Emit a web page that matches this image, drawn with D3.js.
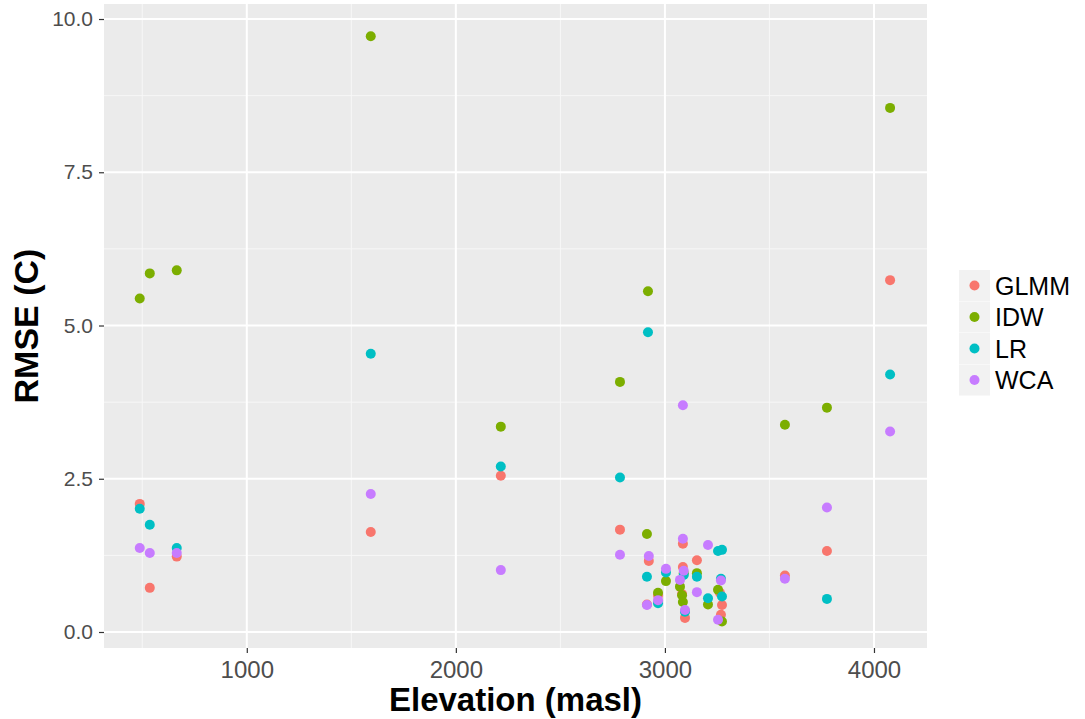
<!DOCTYPE html>
<html><head><meta charset="utf-8">
<script src="https://cdn.jsdelivr.net/npm/d3@7"></script>
<style>body{margin:0;background:#fff;} svg{display:block;font-family:"Liberation Sans",Arial,sans-serif;}</style>
</head><body><svg id="c" width="1085" height="719"></svg>
<script>
const seriesNames = ["GLMM","IDW","LR","WCA"];
const seriesColors = ["#F8766D","#7CAE00","#00BFC4","#C77CFF"];
const xTicks = [1000,2000,3000,4000];
const yTicks = [0,2.5,5,7.5,10];
const glmm = [[488,2.09],[536,0.72],[665,1.23],[1593,1.63],[2215,2.55],[2785,1.67],[2923,1.16],[2914,0.45],[2967,0.60],[3086,1.44],[3086,1.06],[3082,0.62],[3096,0.23],[3153,1.17],[3263,0.64],[3273,0.44],[3268,0.28],[3574,0.92],[3775,1.32],[4077,5.74]];
const idw = [[488,5.44],[536,5.85],[665,5.90],[1593,9.72],[2215,3.35],[2785,4.08],[2919,5.56],[2914,1.60],[2967,0.64],[3005,0.83],[3072,0.74],[3082,0.60],[3086,0.49],[3090,0.96],[3153,0.96],[3206,0.45],[3254,0.69],[3273,0.17],[3574,3.38],[3775,3.66],[4077,8.55]];
const lr = [[488,2.01],[536,1.75],[665,1.37],[1593,4.54],[2215,2.70],[2785,2.52],[2919,4.89],[2914,0.90],[2967,0.47],[3005,0.97],[3090,0.93],[3096,0.33],[3153,0.90],[3206,0.55],[3254,1.32],[3273,1.34],[3273,0.58],[3268,0.87],[3775,0.54],[4077,4.20]];
const wca = [[488,1.37],[536,1.29],[665,1.29],[1593,2.25],[2215,1.01],[2785,1.26],[2923,1.24],[2914,0.44],[2967,0.52],[3005,1.03],[3086,3.70],[3086,1.52],[3072,0.85],[3090,1.00],[3096,0.36],[3153,0.65],[3206,1.42],[3268,0.84],[3254,0.20],[3574,0.87],[3775,2.03],[4077,3.27]];
const allSeries = [glmm, idw, lr, wca];

const svg = d3.select("#c");
const L=104, R=927, T=4, B=648;
const x = d3.scaleLinear().domain([317,4253.6]).range([L,R]);
const y = d3.scaleLinear().domain([-0.261,10.245]).range([B,T]);

svg.append("rect").attr("x",L).attr("y",T).attr("width",R-L).attr("height",B-T).attr("fill","#EBEBEB");
const g = svg.append("g");
const xMinor = [500,1500,2500,3500];
const yMinor = [1.25,3.75,6.25,8.75];
g.selectAll(".xm").data(xMinor).enter().append("line").attr("x1",d=>x(d)).attr("x2",d=>x(d)).attr("y1",T).attr("y2",B).attr("stroke","#F7F7F7").attr("stroke-width",1);
g.selectAll(".ym").data(yMinor).enter().append("line").attr("y1",d=>y(d)).attr("y2",d=>y(d)).attr("x1",L).attr("x2",R).attr("stroke","#F7F7F7").attr("stroke-width",1);
g.selectAll(".xM").data(xTicks).enter().append("line").attr("x1",d=>x(d)).attr("x2",d=>x(d)).attr("y1",T).attr("y2",B).attr("stroke","#fff").attr("stroke-width",2);
g.selectAll(".yM").data(yTicks).enter().append("line").attr("y1",d=>y(d)).attr("y2",d=>y(d)).attr("x1",L).attr("x2",R).attr("stroke","#fff").attr("stroke-width",2);

const xAxis = d3.axisBottom(x).tickValues(xTicks).tickSize(5).tickPadding(8).tickFormat(d3.format("d"));
const yAxis = d3.axisLeft(y).tickValues(yTicks).tickSize(5).tickPadding(6).tickFormat(d3.format(".1f"));
const xa = svg.append("g").attr("transform",`translate(0,${B})`).call(xAxis);
const ya = svg.append("g").attr("transform",`translate(${L},0)`).call(yAxis);
[xa,ya].forEach(a=>{a.select(".domain").remove();a.selectAll("line").attr("stroke","#333").attr("stroke-width",1.2);a.selectAll("text").attr("fill","#4D4D4D").attr("font-family","Liberation Sans, Arial, sans-serif");});
xa.selectAll("text").attr("font-size","24px");
ya.selectAll("text").attr("font-size","21px");

allSeries.forEach((s,i)=>{
  svg.append("g").selectAll("circle").data(s).enter().append("circle")
    .attr("cx",d=>x(d[0])).attr("cy",d=>y(d[1])).attr("r",5).attr("fill",seriesColors[i]);
});

svg.append("text").attr("x",(L+R)/2).attr("y",711).attr("text-anchor","middle").attr("font-size","33px").attr("font-weight","bold").attr("fill","#000").text("Elevation (masl)");
svg.append("text").attr("transform",`translate(38,${(T+B)/2}) rotate(-90)`).attr("text-anchor","middle").attr("font-size","34px").attr("font-weight","bold").attr("fill","#000").text("RMSE (C)");

const lg = svg.append("g").attr("transform","translate(959,270)");
seriesNames.forEach((n,i)=>{
  const row = lg.append("g").attr("transform",`translate(0,${i*31.5})`);
  row.append("rect").attr("width",31).attr("height",31).attr("fill","#F2F2F2");
  row.append("circle").attr("cx",15.5).attr("cy",15.5).attr("r",5).attr("fill",seriesColors[i]);
  row.append("text").attr("x",36).attr("y",24.5).attr("font-size","25px").attr("fill","#000").text(n);
});
</script></body></html>
